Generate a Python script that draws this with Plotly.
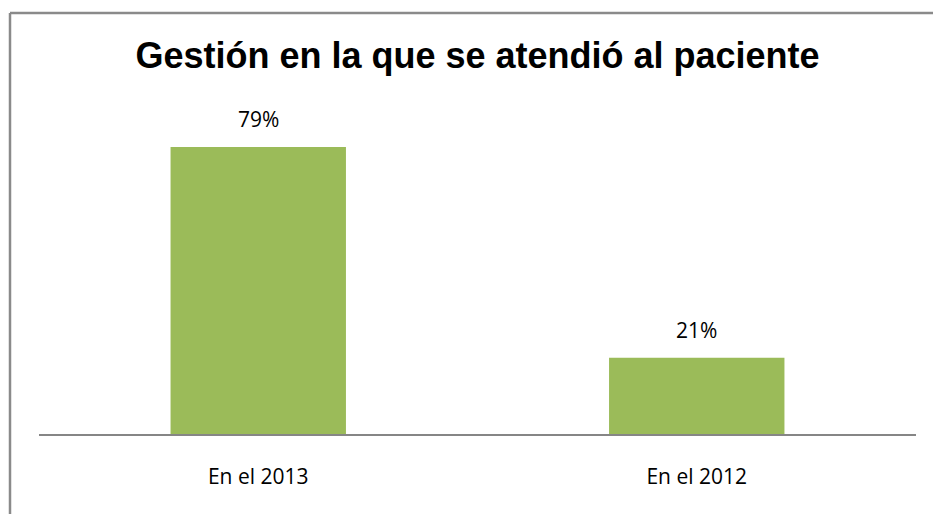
import plotly.graph_objects as go

categories = ["En el 2013", "En el 2012"]
values = [0.79, 0.21]
labels = ["79%", "21%"]
title_text = "Gestión en la que se atendió al paciente"

W, H = 933, 514
ml, mr, mt, mb = 39, 17, 107, 80
pw = W - ml - mr
ph = H - mt - mb

fig = go.Figure()
fig.add_trace(go.Bar(
    x=categories, y=values,
    marker=dict(color="#9BBB59", line=dict(width=0)),
    width=0.4,
    hoverinfo="skip",
))

for c, v, t in zip(categories, values, labels):
    fig.add_annotation(x=c, y=v, text=t, showarrow=False, yanchor="bottom",
                       yshift=12, font=dict(family="Open Sans", size=21, color="#000000"))

def px_x(p):
    return (p - ml) / pw

def px_y(p):
    return (H - mb - p) / ph

gray = "#8a8a8a"
fig.add_shape(type="line", xref="paper", yref="paper",
              x0=px_x(10), x1=px_x(W + 5), y0=px_y(13), y1=px_y(13),
              line=dict(color=gray, width=2.5))
fig.add_shape(type="line", xref="paper", yref="paper",
              x0=px_x(10), x1=px_x(10), y0=px_y(13), y1=px_y(H + 5),
              line=dict(color=gray, width=2.5))

fig.update_layout(
    width=W, height=H,
    margin=dict(l=ml, r=mr, t=mt, b=mb),
    paper_bgcolor="white", plot_bgcolor="white",
    showlegend=False,
    title=dict(text="<b>" + title_text + "</b>", x=0.5, xref="paper",
               y=1 - 55 / H, yanchor="middle", xanchor="center",
               font=dict(family="Liberation Sans, Arial", size=36, color="#000000")),
    xaxis=dict(showline=True, linecolor="#868686", linewidth=1.5, ticks="",
               showgrid=False, zeroline=False, ticklabelstandoff=23,
               tickfont=dict(family="Open Sans", size=21, color="#000000")),
    yaxis=dict(range=[0, 0.9], visible=False, showgrid=False, zeroline=False),
)

fig.write_html("out.html")
